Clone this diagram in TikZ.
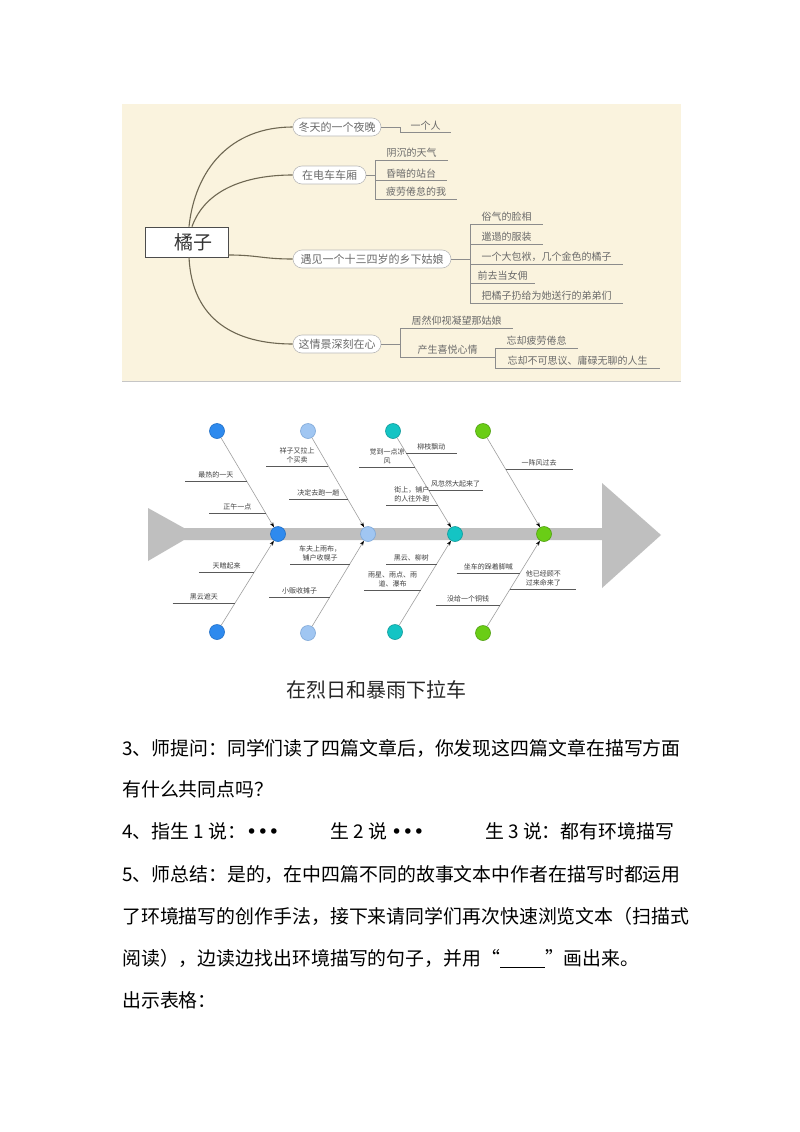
\documentclass[tikz,border=0pt]{standalone}
\usepackage{fontspec}
\setmainfont{Noto Sans CJK SC}
\newfontfamily\dvfont{DejaVu Sans}
\usetikzlibrary{arrows.meta,shapes.misc,calc}
\definecolor{mmbg}{HTML}{FAF3DE}
\definecolor{mmline}{HTML}{6E6752}
\definecolor{mmtext}{HTML}{6A6A6A}
\definecolor{ulgray}{HTML}{8C8C8C}
\definecolor{spinegray}{HTML}{BFBFBF}
\definecolor{ca}{HTML}{2E8AEE}
\definecolor{cad}{HTML}{1F6FC8}
\definecolor{cb}{HTML}{A0C6F2}
\definecolor{cbd}{HTML}{7FA8D8}
\definecolor{cc}{HTML}{14C4C4}
\definecolor{ccd}{HTML}{0E9A9A}
\definecolor{cd}{HTML}{6ACD16}
\definecolor{cdd}{HTML}{4FA00E}
\tikzset{
  oval/.style={rounded rectangle, draw=gray!55, fill=white, line width=0.6pt,
    minimum height=18pt, inner xsep=6pt, inner ysep=0pt,
    font=\fontsize{11}{13}\selectfont, text=mmtext},
  rootbox/.style={draw=black!70, fill=white, line width=0.8pt, minimum width=83pt,
    minimum height=30pt, inner sep=0pt, font=\fontsize{19}{21}\selectfont, text=black!80},
  branch/.style={draw=mmline, line width=1.1pt},
  brk/.style={draw=ulgray, line width=0.6pt},
  mmitem/.style={inner xsep=0pt, inner ysep=2pt, anchor=south west,
    font=\fontsize{10}{12}\selectfont, text=mmtext,
    append after command={(\tikzlastnode.south west) edge[brk] (\tikzlastnode.south east)}},
  fbline/.style={draw=black!65, line width=0.6pt},
  fl/.style={inner xsep=0pt, inner ysep=2.5pt, align=center,
    font=\fontsize{7}{9}\selectfont, text=black!75,
    append after command={(\tikzlastnode.south west) edge[fbline] (\tikzlastnode.south east)}},
  bone/.style={draw=gray!75, line width=0.6pt, -{Stealth[length=5pt,width=3.5pt,black]}},
  dot/.style={circle, minimum size=15pt, inner sep=0pt, line width=0.6pt},
  dota/.style={dot, fill=ca, draw=cad},
  dotb/.style={dot, fill=cb, draw=cbd},
  dotc/.style={dot, fill=cc, draw=ccd},
  dotd/.style={dot, fill=cd, draw=cdd},
  body/.style={anchor=west, inner sep=0pt, font=\fontsize{18.9}{24}\selectfont, text=black},
  blank/.style={anchor=west, inner sep=0pt, minimum height=19pt, minimum width=44pt,
    append after command={(\tikzlastnode.south west) edge[draw=black, line width=1.2pt] (\tikzlastnode.south east)}}
}
\begin{document}
\begin{tikzpicture}[x=1pt,y=-1pt]
\useasboundingbox (0,0) rectangle (800,1132);
\fill[white] (0,0) rectangle (800,1132);

% ---------------- mind map ----------------
\fill[mmbg] (122,104) rectangle (681,381);
\draw[gray!45, line width=1pt] (122,381) -- (681,381);

\node[rootbox] (root) at (186.5,242) {\hspace*{14pt}橘子};
\node[oval, minimum width=100pt] (o1) at (337,127) {冬天的一个夜晚};
\node[oval, minimum width=85pt] (o2) at (329.5,175) {在电车车厢};
\node[oval, minimum width=170pt] (o3) at (372,259) {遇见一个十三四岁的乡下姑娘};
\node[oval, minimum width=100pt] (o4) at (337,344) {这情景深刻在心};

\draw[branch] ($(root.north)+(2.5,0)$) .. controls (195,170) and (230,127) .. (o1.west);
\draw[branch] ($(root.north)+(5.5,0)$) .. controls (205,190) and (245,175) .. (o2.west);
\draw[branch] ($(root.east)+(0,13)$) .. controls (258,255) and (262,259) .. (o3.west);
\draw[branch] ($(root.south)+(2.5,0)$) .. controls (192,320) and (235,344) .. (o4.west);

\node[mmitem, minimum width=51pt] (n11) at (400,132) {一个人};
\draw[brk] (o1.east) -| (n11.south west);

\node[mmitem, minimum width=73pt] (n21) at (375,160) {阴沉的天气};
\node[mmitem, minimum width=72pt] (n22) at (375,180) {昏暗的站台};
\node[mmitem, minimum width=82pt] (n23) at (375,199) {疲劳倦怠的我};
\draw[brk] (o2.east) -- (o2.east -| n21.south west);
\draw[brk] (n21.south west) -- (n23.south west);

\node[mmitem, minimum width=73pt] (n31) at (470,224) {俗气的脸相};
\node[mmitem, minimum width=73pt] (n32) at (470,244) {邋遢的服装};
\node[mmitem, minimum width=153pt] (n33) at (470,264) {一个大包袱，几个金色的橘子};
\node[mmitem, minimum width=65pt] (n34) at (470,283) {前去当女佣};
\node[mmitem, minimum width=153pt] (n35) at (470,303) {把橘子扔给为她送行的弟弟们};
\draw[brk] (o3.east) -- (o3.east -| n31.south west);
\draw[brk] (n31.south west) -- (n35.south west);

\node[mmitem, minimum width=113pt] (n41) at (400,328) {居然仰视凝望那姑娘};
\node[mmitem, minimum width=95pt] (n42) at (400,357) {产生喜悦心情};
\node[mmitem, minimum width=83pt] (n43) at (495,348) {忘却疲劳倦怠};
\node[mmitem, minimum width=165pt] (n44) at (495,368) {忘却不可思议、庸碌无聊的人生};
\draw[brk] (o4.east) -- (o4.east -| n41.south west);
\draw[brk] (n41.south west) -- (n42.south west);
\draw[brk] (n43.south west) -- (n44.south west);

% ---------------- fishbone ----------------
\fill[spinegray] (148,508) -- (184,528) -- (602,528) -- (602,483) -- (661,535)
  -- (602,588) -- (602,540) -- (184,540) -- (148,561) -- cycle;

\node[dota] (t1) at (217,431) {};
\node[dota] (s1) at (278,534) {};
\node[dota] (b1) at (217,632) {};
\node[dotb] (t2) at (308,431) {};
\node[dotb] (s2) at (368,534) {};
\node[dotb] (b2) at (308,633) {};
\node[dotc] (t3) at (393,431) {};
\node[dotc] (s3) at (455,534) {};
\node[dotc] (b3) at (395,632) {};
\node[dotd] (t4) at (483,431) {};
\node[dotd] (s4) at (544,534) {};
\node[dotd] (b4) at (483,633) {};

\draw[bone] (t1) -- (s1);
\draw[bone] (b1) -- (s1);
\draw[bone] (t2) -- (s2);
\draw[bone] (b2) -- (s2);
\draw[bone] (t3) -- (s3);
\draw[bone] (b3) -- (s3);
\draw[bone] (t4) -- (s4);
\draw[bone] (b4) -- (s4);

% top labels
\node[fl, minimum width=61pt, anchor=south east] (la1) at ($(t1)!0.485!(s1)$) {最热的一天};
\node[fl, minimum width=56pt, anchor=south east] (la2) at ($(t1)!0.796!(s1)$) {正午一点};
\node[fl, minimum width=62pt, anchor=south east] (lb1) at ($(t2)!0.34!(s2)$) {祥子又拉上\\个买卖};
\node[fl, minimum width=58pt, anchor=south east] (lb2) at ($(t2)!0.66!(s2)$) {决定去跑一趟};
\node[fl, minimum width=55pt, anchor=south east] (lc1) at ($(t3)!0.35!(s3)$) {觉到一点凉\\风};
\node[fl, minimum width=50pt, anchor=south west] (lc2) at ($(t3)!0.214!(s3)$) {柳枝飘动};
\node[fl, minimum width=54pt, anchor=south west] (lc3) at ($(t3)!0.573!(s3)$) {风忽然大起来了};
\node[fl, minimum width=51pt, anchor=south east] (lc4) at ($(t3)!0.718!(s3)$) {街上，铺户\\的人往外跑};
\node[fl, minimum width=67pt, anchor=south west] (ld1) at ($(t4)!0.369!(s4)$) {一阵风过去};

% bottom labels
\node[fl, minimum width=55pt, anchor=south east] (ma1) at ($(b1)!0.612!(s1)$) {天暗起来};
\node[fl, minimum width=62pt, anchor=south east] (ma2) at ($(b1)!0.296!(s1)$) {黑云遮天};
\node[fl, minimum width=59pt, anchor=south east] (mb1) at ($(b2)!0.697!(s2)$) {车夫上雨布，\\铺户收幌子};
\node[fl, minimum width=60pt, anchor=south east] (mb2) at ($(b2)!0.364!(s2)$) {小贩收摊子};
\node[fl, minimum width=50pt, anchor=south east] (mc1) at ($(b3)!0.694!(s3)$) {黑云、柳树};
\node[fl, minimum width=56pt, anchor=south east] (mc2) at ($(b3)!0.429!(s3)$) {雨星、雨点、雨\\道、瀑布};
\node[fl, minimum width=63pt, anchor=south east] (md1) at ($(b4)!0.606!(s4)$) {坐车的跺着脚喊};
\node[fl, minimum width=66pt, anchor=south west] (md2) at ($(b4)!0.444!(s4)$) {他已经顾不\\过来命来了};
\node[fl, minimum width=64pt, anchor=south east] (md3) at ($(b4)!0.283!(s4)$) {没给一个铜钱};

\node[font=\fontsize{20}{24}\selectfont, text=black!85] (title) at (376,690) {在烈日和暴雨下拉车};

% ---------------- body text ----------------
\node[body] (p1) at (122,748) {3、师提问：同学们读了四篇文章后，你发现这四篇文章在描写方面};
\node[body] (p2) at (122,789) {有什么共同点吗？};
\node[body] (p3a) at (122,831) {4、指生 1 说：{\dvfont •••}};
\node[body] (p3b) at (330,831) {生 2 说 {\dvfont •••}};
\node[body] (p3c) at (485,831) {生 3 说：都有环境描写};
\node[body] (p4) at (122,874) {5、师总结：是的，在中四篇不同的故事文本中作者在描写时都运用};
\node[body] (p5) at (122,916) {了环境描写的创作手法，接下来请同学们再次快速浏览文本（扫描式};
\node[body] (p6a) at (122,958) {阅读），边读边找出环境描写的句子，并用“};
\node[blank] (p6b) at (p6a.east) {};
\node[body] (p6c) at (p6b.east) {”画出来。};
\node[body] (p7) at (122,1000) {出示表格：};
\end{tikzpicture}
\end{document}
